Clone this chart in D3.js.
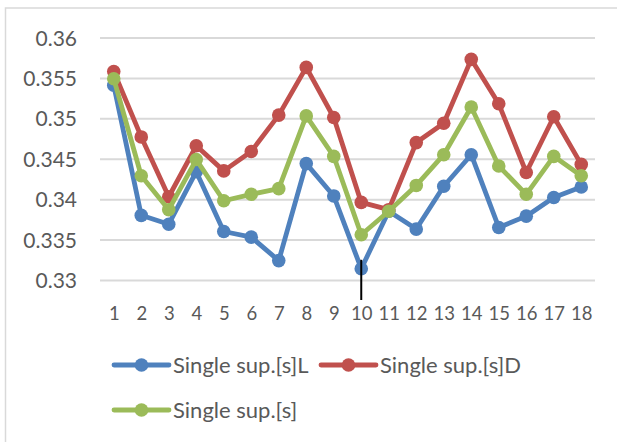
<!DOCTYPE html>
<html>
<head>
<meta charset="utf-8">
<script src="https://cdn.jsdelivr.net/npm/d3@7"></script>
<style>
  html, body { margin: 0; padding: 0; background: #fff; }
  svg { display: block; }
  text { font-family: Lato, "Open Sans", sans-serif; fill: #595959; }
</style>
</head>
<body>
<svg id="chart" width="617" height="442"></svg>
<script>
// ---- data ----
const categories = [1,2,3,4,5,6,7,8,9,10,11,12,13,14,15,16,17,18];
const seriesNames = ["Single sup.[s]L", "Single sup.[s]D", "Single sup.[s]"];
const seriesColors = ["#4f81bd", "#c0504d", "#9bbb59"];
const valuesL = [0.3541, 0.3380, 0.3369, 0.3434, 0.3360, 0.3353, 0.3324, 0.3444, 0.3404,
                 0.3314, 0.3385, 0.3363, 0.3416, 0.3455, 0.3365, 0.3379, 0.3402, 0.3415];
const valuesD = [0.3558, 0.3477, 0.3403, 0.3466, 0.3435, 0.3459, 0.3504, 0.3563, 0.3501,
                 0.3396, 0.3387, 0.3470, 0.3494, 0.3573, 0.3518, 0.3433, 0.3502, 0.3443];
const valuesS = [0.3549, 0.3429, 0.3387, 0.3449, 0.3398, 0.3406, 0.3413, 0.3503, 0.3453,
                 0.3356, 0.3385, 0.3417, 0.3455, 0.3514, 0.3441, 0.3406, 0.3453, 0.3429];
const yTicks = [0.33, 0.335, 0.34, 0.345, 0.35, 0.355, 0.36];
const yTickLabels = ["0.33", "0.335", "0.34", "0.345", "0.35", "0.355", "0.36"];
const markerCategory = 10;   // stray vertical mark seen in the source
const markerTopValue = 0.3325;

const series = seriesNames.map((name, i) => ({
  name, color: seriesColors[i], values: [valuesL, valuesD, valuesS][i]
}));

// ---- layout ----
const svg = d3.select("#chart");
const plot = { left: 100, right: 595, top: 37.5, bottom: 280 };

// outer chart border (extends past right/bottom edge as in source)
svg.append("rect")
  .attr("x", 5.5).attr("y", 8)
  .attr("width", 640).attr("height", 460)
  .attr("fill", "none").attr("stroke", "#d9d9d9").attr("stroke-width", 1.5);

const x = d3.scalePoint().domain(categories).range([plot.left, plot.right]).padding(0.5);
const y = d3.scaleLinear().domain([0.33, 0.36]).range([plot.bottom, plot.top]);

// y axis with gridlines
const yAxis = svg.append("g")
  .attr("transform", `translate(${plot.left},0)`)
  .call(d3.axisLeft(y).tickValues(yTicks)
    .tickFormat((d, i) => yTickLabels[i])
    .tickSizeInner(-(plot.right - plot.left)).tickSizeOuter(0).tickPadding(23));
yAxis.select(".domain").remove();
yAxis.selectAll(".tick line").attr("stroke", "#d9d9d9").attr("stroke-width", 2);
yAxis.selectAll(".tick text")
  .attr("dy", "7.6")
  .style("font-size", "21px").style("fill", "#595959");
yAxis.attr("font-family", null).attr("font-size", null);

// x axis labels
const xAxis = svg.append("g")
  .attr("transform", `translate(0,${plot.bottom})`)
  .call(d3.axisBottom(x).tickSize(0).tickPadding(0));
xAxis.select(".domain").remove();
xAxis.selectAll(".tick text")
  .attr("dy", null).attr("y", 39.5)
  .style("font-size", "18.5px").style("fill", "#595959");
xAxis.attr("font-family", null).attr("font-size", null);

// lines and markers
const line = d3.line().x((d, i) => x(categories[i])).y(d => y(d));
const sg = svg.selectAll("g.series").data(series).join("g").attr("class", "series");
sg.append("path")
  .attr("d", d => line(d.values))
  .attr("fill", "none")
  .attr("stroke", d => d.color)
  .attr("stroke-width", 4.8)
  .attr("stroke-linejoin", "round");
sg.selectAll("circle").data(d => d.values.map(v => ({ v, color: d.color })))
  .join("circle")
  .attr("cx", (d, i) => x(categories[i]))
  .attr("cy", d => y(d.v))
  .attr("r", 6.8)
  .attr("fill", d => d.color);

// stray black vertical mark at category 10
svg.append("line")
  .attr("x1", x(markerCategory)).attr("x2", x(markerCategory))
  .attr("y1", y(markerTopValue)).attr("y2", plot.bottom + 20)
  .attr("stroke", "#000").attr("stroke-width", 2);

// legend
const legendPos = [
  { lx: 114, ly: 365 },
  { lx: 321, ly: 365 },
  { lx: 114, ly: 410 }
];
const lg = svg.selectAll("g.legend").data(series).join("g").attr("class", "legend")
  .attr("transform", (d, i) => `translate(${legendPos[i].lx},${legendPos[i].ly})`);
lg.append("line")
  .attr("x1", 0).attr("x2", 55).attr("y1", 0).attr("y2", 0)
  .attr("stroke", d => d.color).attr("stroke-width", 4.8).attr("stroke-linecap", "round");
lg.append("circle").attr("cx", 27.5).attr("cy", 0).attr("r", 6.8).attr("fill", d => d.color);
lg.append("text")
  .attr("x", 59).attr("y", 8)
  .style("font-size", "22px")
  .text(d => d.name);
</script>
</body>
</html>
